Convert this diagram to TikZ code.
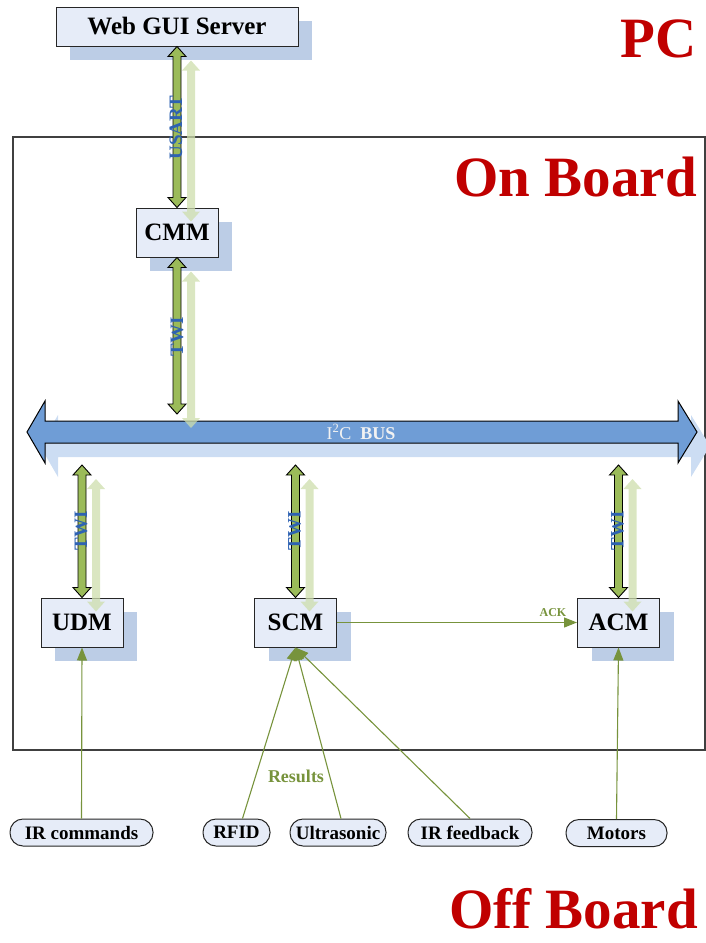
\documentclass[tikz,border=0pt]{standalone}
\usepackage{fontspec}
\setmainfont{Liberation Serif}
\usetikzlibrary{calc,arrows.meta,shadows}

\definecolor{boxfill}{RGB}{230,236,248}
\definecolor{shadowblue}{RGB}{188,205,230}
\definecolor{busblue}{RGB}{111,157,214}
\definecolor{busshadow}{RGB}{204,221,243}
\definecolor{linkgreen}{RGB}{155,187,89}
\definecolor{fadegreen}{RGB}{205,222,172}
\definecolor{olivegreen}{RGB}{119,147,60}
\definecolor{labelblue}{RGB}{46,98,178}
\definecolor{zonered}{RGB}{192,0,0}

% vertical two-headed block arrow between two points, optionally offset
\newcommand\linkarrow[4]{%
  \path[#1] let \p1=($(#2)+(#4)$), \p2=($(#3)+(#4)$) in
    (\x1,\y1) -- (\x1+9pt,\y1-10pt) -- (\x1+4pt,\y1-10pt) -- (\x1+4pt,\y2+10pt)
    -- (\x1+9pt,\y2+10pt) -- (\x1,\y2) -- (\x1-9pt,\y2+10pt) -- (\x1-4pt,\y2+10pt)
    -- (\x1-4pt,\y1-10pt) -- (\x1-9pt,\y1-10pt) -- cycle;
}

\tikzset{
  box/.style={draw=black!85, line width=1pt, fill=boxfill,
    general shadow={fill=shadowblue, shadow xshift=14pt, shadow yshift=-14pt},
    font=\bfseries\fontsize{25}{25}\selectfont},
  module/.style={minimum width=82, minimum height=49},
  pill/.style={draw=black!85, line width=1pt, fill=boxfill, rounded corners=13pt,
    minimum height=27, inner xsep=4pt, font=\bfseries\fontsize{19}{19}\selectfont},
  link/.style={draw=black, line width=0.9pt, fill=linkgreen},
  faded/.style={fill=fadegreen, opacity=0.75},
  conn/.style={draw=olivegreen, line width=1.1pt, -{Triangle[length=13pt,width=10pt]}},
  zone/.style={text=zonered, inner sep=0pt, font=\bfseries\fontsize{57}{57}\selectfont},
  wire/.style={text=labelblue, rotate=90, font=\bfseries\fontsize{19}{19}\selectfont},
  greenlabel/.style={text=olivegreen, font=\bfseries\fontsize{18}{18}\selectfont}
}

\begin{document}
\begin{tikzpicture}[x=1pt, y=-1pt]
\useasboundingbox (0,0) rectangle (706,943);

% on-board frame
\draw[black!75, line width=1.2pt] (13,137) rectangle (705,750);

% I2C bus: shadow, then the bus itself
\fill[busshadow, shift={(13,14)}] (27,432) -- (45,401) -- (45,421) -- (678,421) -- (678,401)
  -- (697,432) -- (678,463) -- (678,443) -- (45,443) -- (45,463) -- cycle;
\draw[black, line width=1pt, fill=busblue] (27,432) -- (45,401) -- (45,421) -- (678,421) -- (678,401)
  -- (697,432) -- (678,463) -- (678,443) -- (45,443) -- (45,463) -- cycle;
\node[text=white!95!black, font=\fontsize{18}{18}\selectfont] (buslabel) at (361,432)
  {I\textsuperscript{2}C\ \ \textbf{BUS}};

\coordinate (bus-cmm) at (177,414);
\coordinate (bus-udm) at (82,465);
\coordinate (bus-scm) at (295.5,465);
\coordinate (bus-acm) at (618.5,465);

% modules
\node[box, minimum width=242, minimum height=39] (web) at (177,26.5) {Web GUI Server};
\node[box, module] (cmm) at (177,232.5) {CMM};
\node[box, module] (udm) at (82,622.5) {UDM};
\node[box, module] (scm) at (295.5,622.5) {SCM};
\node[box, module] (acm) at (618.5,622.5) {ACM};

% faded echoes of the links
\linkarrow{faded}{web.south}{cmm.north}{14,14}
\linkarrow{faded}{cmm.south}{bus-cmm}{14,14}
\linkarrow{faded}{bus-udm}{udm.north}{14,14}
\linkarrow{faded}{bus-scm}{scm.north}{14,14}
\linkarrow{faded}{bus-acm}{acm.north}{14,14}

% links
\linkarrow{link}{web.south}{cmm.north}{0,0}
\linkarrow{link}{cmm.south}{bus-cmm}{0,0}
\linkarrow{link}{bus-udm}{udm.north}{0,0}
\linkarrow{link}{bus-scm}{scm.north}{0,0}
\linkarrow{link}{bus-acm}{acm.north}{0,0}

% link labels
\node[wire] (usart) at (176,127.5) {USART};
\node[wire] (twi-cmm) at (177,337) {TWI};
\node[wire] (twi-udm) at (81,531) {TWI};
\node[wire] (twi-scm) at (294.5,531) {TWI};
\node[wire] (twi-acm) at (617.5,531) {TWI};

% off-board devices
\node[pill, minimum width=143] (irc) at (81.5,832.5) {IR commands};
\node[pill, minimum width=67] (rfid) at (236.5,832.5) {RFID};
\node[pill, minimum width=96] (ultra) at (338,832.5) {Ultrasonic};
\node[pill, minimum width=124] (irfb) at (470,832.5) {IR feedback};
\node[pill, minimum width=101] (motors) at (616.5,833) {Motors};

% signal connectors
\draw[conn] (irc.north) -- (udm.south);
\draw[conn] ($(rfid.north)+(6,0)$) -- (scm.south);
\draw[conn] ($(ultra.north)+(3,0)$) -- (scm.south);
\draw[conn] (irfb.north) -- (scm.south);
\draw[conn] (motors.north) -- (acm.south);
\draw[conn] (scm.east) -- (acm.west)
  node[pos=0.9, above=2pt, greenlabel, font=\bfseries\fontsize{12}{12}\selectfont] (ack) {ACK};
\node[greenlabel] (results) at (296,776) {Results};

% zone titles
\node[zone, anchor=base east] (pc) at (697,57) {PC};
\node[zone, anchor=base east] (onboard) at (697,196) {On Board};
\node[zone, anchor=base east] (offboard) at (698,928) {Off Board};
\end{tikzpicture}
\end{document}
